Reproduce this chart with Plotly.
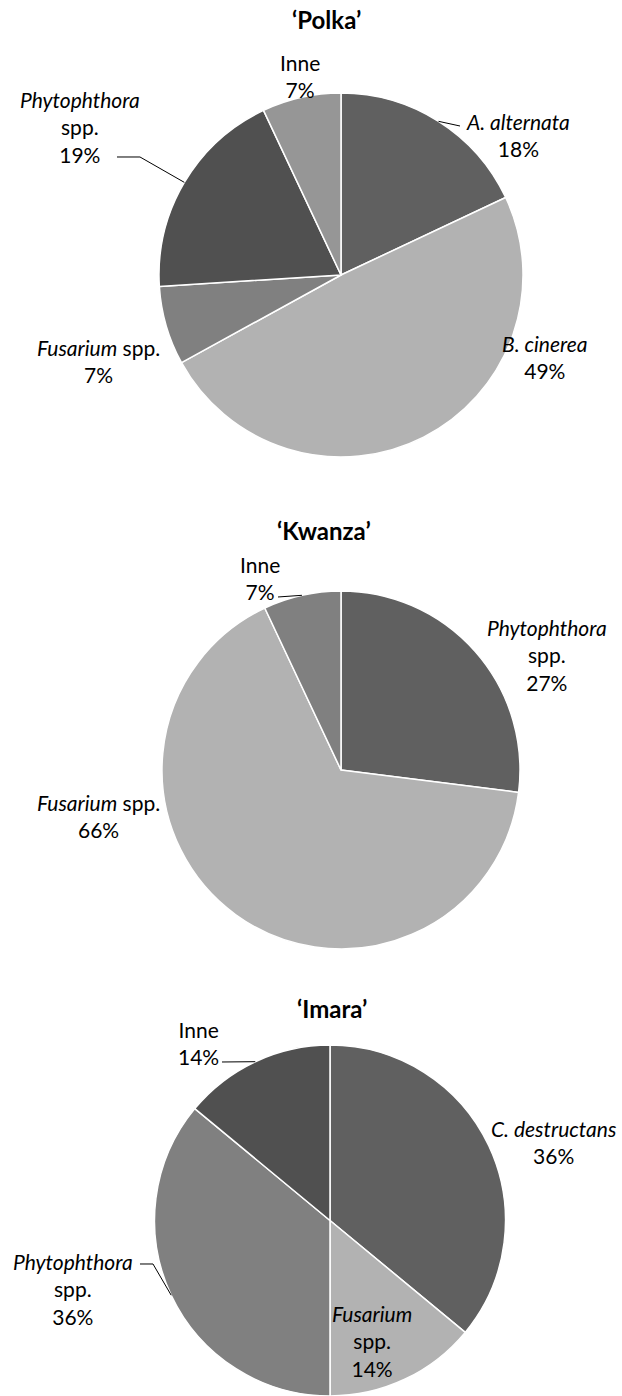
import math
import plotly.graph_objects as go

W, H = 622, 1396

# ---------------- data ----------------
titles = ["‘Polka’", "‘Kwanza’", "‘Imara’"]

polka_labels = ["<i>A. alternata</i>", "<i>B. cinerea</i>", "<i>Fusarium</i> spp.", "<i>Phytophthora</i><br>spp.", "Inne"]
polka_values = [18, 49, 7, 19, 7]

kwanza_labels = ["<i>Phytophthora</i><br>spp.", "<i>Fusarium</i> spp.", "Inne"]
kwanza_values = [27, 66, 7]

imara_labels = ["<i>C. destructans</i>", "<i>Fusarium</i><br>spp.", "<i>Phytophthora</i><br>spp.", "Inne"]
imara_values = [36, 14, 36, 14]

# ---------------- style ----------------
polka_colors = ["#606060", "#b2b2b2", "#808080", "#505050", "#969696"]
kwanza_colors = ["#606060", "#b2b2b2", "#808080"]
imara_colors = ["#606060", "#b2b2b2", "#808080", "#505050"]

# pie geometry in pixels: centre x, centre y, radius
pies_geom = [(341, 275, 182), (341, 770, 179), (330, 1220.5, 175.5)]
title_pos = [(326, 20), (324, 530), (332, 1008)]

# label block centres (pixels)
polka_lab = [(518, 135), (545, 357), (98, 361), (80, 127), (300, 76)]
kwanza_lab = [(547, 655), (98, 816), (260, 578)]
imara_lab = [(553, 1142), (372, 1341), (73, 1289), (198, 1043)]

# leader line anchor points near labels (pixels) per slice, None = no leader
polka_lead = [[(460, 126)], None, None, [(140, 157), (117, 157)], None]
kwanza_lead = [None, None, [(278, 597)]]
imara_lead = [None, None, [(153, 1264), (140, 1264)], [(222, 1062)]]

FONT = "Lato"
LABEL_SIZE = 21
TITLE_SIZE = 24


def px(x):
    return x / W


def py(y):
    return 1 - y / H


fig = go.Figure()
annotations = []
shapes = []

datasets = [
    (polka_labels, polka_values, polka_colors, polka_lab, polka_lead),
    (kwanza_labels, kwanza_values, kwanza_colors, kwanza_lab, kwanza_lead),
    (imara_labels, imara_values, imara_colors, imara_lab, imara_lead),
]

for i, (labels, values, colors, labpos, leads) in enumerate(datasets):
    cx, cy, r = pies_geom[i]
    fig.add_trace(go.Pie(
        labels=[l.replace("<br>", " ") for l in labels],
        values=values,
        sort=False,
        direction="clockwise",
        rotation=0,
        marker=dict(colors=colors, line=dict(color="white", width=1.5)),
        textinfo="none",
        hoverinfo="label+percent",
        showlegend=False,
        domain=dict(x=[px(cx - r), px(cx + r)], y=[py(cy + r), py(cy - r)]),
    ))
    tx, ty = title_pos[i]
    annotations.append(dict(
        x=px(tx), y=py(ty), xref="paper", yref="paper", showarrow=False,
        text="<b>" + titles[i] + "</b>", font=dict(family=FONT, size=TITLE_SIZE, color="#000000"),
        xanchor="center", yanchor="middle"))
    total = sum(values)
    cum = 0
    for j, v in enumerate(values):
        pct = round(100 * v / total)
        lx, ly = labpos[j]
        annotations.append(dict(
            x=px(lx), y=py(ly), xref="paper", yref="paper", showarrow=False,
            text=f"{labels[j]}<br>{pct}%", align="center",
            font=dict(family=FONT, size=LABEL_SIZE, color="#000000"),
            xanchor="center", yanchor="middle"))
        mid = (cum + v / 2) / total * 2 * math.pi
        cum += v
        if leads[j]:
            ex = cx + r * math.sin(mid)
            ey = cy - r * math.cos(mid)
            pts = [(ex, ey)] + leads[j]
            path = "M " + " L ".join(f"{px(a):.5f},{py(b):.5f}" for a, b in pts)
            shapes.append(dict(type="path", path=path, xref="paper", yref="paper",
                               line=dict(color="#000000", width=1)))

fig.update_layout(
    width=W, height=H,
    margin=dict(l=0, r=0, t=0, b=0),
    paper_bgcolor="white", plot_bgcolor="white",
    annotations=annotations, shapes=shapes,
    font=dict(family=FONT),
)

fig.write_html("out.html", config={"displayModeBar": False},
               post_script="document.body.style.margin='0px';document.body.style.overflow='hidden';")
